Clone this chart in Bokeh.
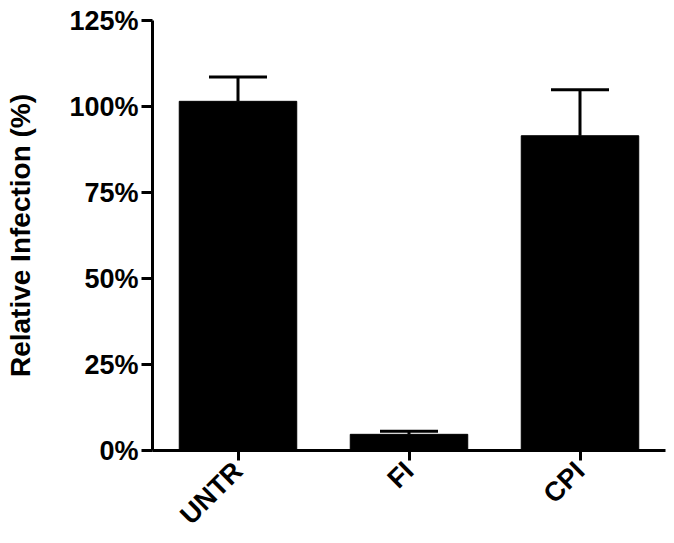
import math
from bokeh.plotting import figure
from bokeh.models import (FixedTicker, PrintfTickFormatter, Whisker, TeeHead,
                          ColumnDataSource)
from bokeh.embed import file_html
from bokeh.resources import INLINE

categories = ["UNTR", "FI", "CPI"]
values = [101.5, 4.7, 91.5]
upper = [108.6, 5.6, 104.9]
y_ticks = [0, 25, 50, 75, 100, 125]

p = figure(x_range=categories, y_range=(0, 125), width=668, height=543,
           output_backend="svg", toolbar_location=None,
           min_border_left=152, min_border_right=3, min_border_top=20, min_border_bottom=88)
p.outline_line_color = None
p.xgrid.grid_line_color = None
p.ygrid.grid_line_color = None
p.x_range.range_padding = 0

src = ColumnDataSource(dict(x=categories, top=values, upper=upper, lower=values))
p.vbar(x="x", top="top", width=0.687, source=src, fill_color="black", line_color="black")
w = Whisker(base="x", upper="upper", lower="lower", source=src,
            line_color="black", line_width=3,
            upper_head=TeeHead(size=58, line_width=3, line_color="black"), lower_head=None)
p.add_layout(w)

font = "Liberation Sans"
for ax in (p.xaxis, p.yaxis):
    ax.axis_line_width = 3
    ax.major_tick_line_width = 3
    ax.minor_tick_line_color = None
    ax.major_label_text_font = font
    ax.major_label_text_font_style = "bold"
    ax.major_label_text_font_size = "27px"
    ax.major_label_text_color = "black"
    ax.axis_line_color = "black"
    ax.major_tick_line_color = "black"

p.yaxis.ticker = FixedTicker(ticks=y_ticks)
p.yaxis.formatter = PrintfTickFormatter(format="%d%%")
p.yaxis.major_tick_out = 11
p.yaxis.major_tick_in = 0
p.yaxis.major_label_standoff = 3
p.yaxis.axis_label = "Relative Infection (%)"
p.yaxis.axis_label_text_font = font
p.yaxis.axis_label_text_font_style = "bold"
p.yaxis.axis_label_text_font_size = "28px"
p.yaxis.axis_label_text_color = "black"
p.yaxis.axis_label_standoff = 30

p.xaxis.major_tick_out = 10
p.xaxis.major_tick_in = 0
p.xaxis.major_label_orientation = math.pi / 4
p.xaxis.major_label_standoff = 6
p.xaxis.major_label_text_font_size = "27px"

open("out.html", "w").write(file_html(p, INLINE))
